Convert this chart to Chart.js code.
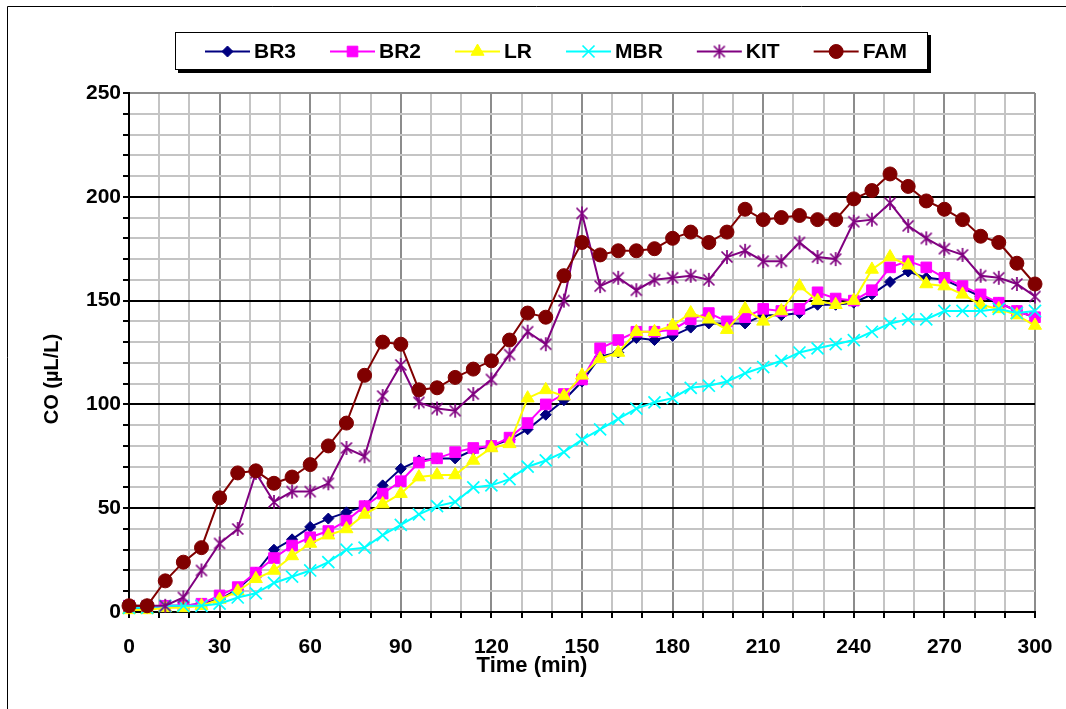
<!DOCTYPE html>
<html><head><meta charset="utf-8">
<script src="https://cdn.jsdelivr.net/npm/chart.js@4.4.1/dist/chart.umd.min.js"></script>
<style>html,body{margin:0;padding:0;background:#fff;}#wrap{width:1066px;height:709px;position:relative;}</style>
</head><body><div id="wrap"><canvas id="c" width="1066" height="709"></canvas></div>
<script>
// ---- data ----
const times = [0,6,12,18,24,30,36,42,48,54,60,66,72,78,84,90,96,102,108,114,120,126,132,138,144,150,156,162,168,174,180,186,192,198,204,210,216,222,228,234,240,246,252,258,264,270,276,282,288,294,300];
const seriesNames = ['BR3','BR2','LR','MBR','KIT','FAM'];
const BR3 = [2,2,3,3,4,6,11,19,30,35,41,45,48,51,61,69,73,74,74,78,80,83,88,95,102,111,123,125,132,131,133,137,139,139,139,143,143,144,148,148,149,153,159,164,161,160,156,152,149,145,142];
const BR2 = [3,2,3,3,4,8,12,19,26,32,36,39,44,51,57,63,72,74,77,79,80,84,91,100,105,112,127,131,135,135,136,141,144,140,142,146,145,146,154,151,150,155,166,169,166,161,157,153,149,145,142];
const LR  = [1,1,2,2,3,6,10,16,20,27,33,37,40,47,52,57,65,66,66,73,79,81,103,107,104,114,122,125,135,135,138,144,141,136,146,140,145,157,150,148,150,165,171,167,158,157,153,148,146,143,138];
const MBR = [2,2,3,3,3,4,7,9,14,17,20,24,30,31,37,42,47,51,53,60,61,64,70,73,77,83,88,93,98,101,103,108,109,111,115,118,121,125,127,129,131,135,139,141,141,145,145,145,146,144,145];
const KIT = [3,3,3,7,20,33,40,67,53,58,58,62,79,75,104,119,101,98,97,105,112,124,135,129,150,192,157,161,155,160,161,162,160,171,174,169,169,178,171,170,188,189,197,186,180,175,172,162,161,158,152];
const FAM = [3,3,15,24,31,55,67,68,62,65,71,80,91,114,130,129,107,108,113,117,121,131,144,142,162,178,172,174,174,175,180,183,178,183,194,189,190,191,189,189,199,203,211,205,198,194,189,181,178,168,158];
const xTickLabels = [0,30,60,90,120,150,180,210,240,270,300];
const yTickLabels = [0,50,100,150,200,250];
const xTitle = 'Time (min)';
const yTitle = 'CO (\u00b5L/L)';

// ---- styles ----
const FONT = '"Liberation Sans", Arial, Helvetica, sans-serif';
const colors = ['#000080','#FF00FF','#FFFF00','#00FFFF','#800080','#800000'];

function asterisk(color, s){
  const c = document.createElement('canvas'); c.width = s; c.height = s;
  const g = c.getContext('2d'); g.strokeStyle = color; g.lineWidth = 1.7;
  const a = 2.5, b = s - 2.5, m = s / 2;
  g.beginPath();
  g.moveTo(a,a); g.lineTo(b,b);
  g.moveTo(b,a); g.lineTo(a,b);
  g.moveTo(m,1); g.lineTo(m,s-1);
  g.stroke();
  return c;
}
const markers = [
  {pointStyle:'rectRot', radius:5.5, borderWidth:1},
  {pointStyle:'rect', radius:7.5, borderWidth:1},
  {pointStyle:'triangle', radius:7.5, borderWidth:1},
  {pointStyle:'crossRot', radius:8.5, borderWidth:1.7},
  {pointStyle:asterisk(colors[4], 16), radius:8, borderWidth:1},
  {pointStyle:'circle', radius:7, borderWidth:1}
];
const seriesData = [BR3,BR2,LR,MBR,KIT,FAM];

const datasets = seriesData.map((arr,i)=>({
  label: seriesNames[i],
  data: times.map((t,j)=>({x:t,y:arr[j]})),
  borderColor: colors[i],
  backgroundColor: colors[i],
  pointBackgroundColor: colors[i],
  pointBorderColor: colors[i],
  pointStyle: markers[i].pointStyle,
  pointRadius: markers[i].radius,
  pointBorderWidth: markers[i].borderWidth,
  borderWidth: 2,
  tension: 0,
  clip: false,
  order: 5 - i
}));

const decor = {
  id:'decor',
  beforeDraw(chart){
    const ctx = chart.ctx;
    ctx.save(); ctx.fillStyle = '#fff'; ctx.fillRect(0,0,chart.width,chart.height); ctx.restore();
  },
  afterDraw(chart){
    const ctx = chart.ctx;
    ctx.save();
    // outer frame
    ctx.strokeStyle = '#000'; ctx.lineWidth = 1;
    ctx.beginPath(); ctx.moveTo(7.5,709); ctx.lineTo(7.5,6.5); ctx.lineTo(1066,6.5); ctx.stroke();
    // axis titles
    ctx.fillStyle = '#000';
    ctx.font = 'bold 22px ' + FONT; ctx.textAlign = 'center'; ctx.textBaseline = 'middle';
    ctx.fillText(xTitle, 532, 666);
    ctx.save(); ctx.translate(52, 379); ctx.rotate(-Math.PI/2);
    ctx.font = 'bold 20px ' + FONT; ctx.fillText(yTitle, 0, 0); ctx.restore();
    // legend box with shadow
    const bx = 175, by = 32, bw = 753, bh = 38;
    ctx.fillStyle = '#000'; ctx.fillRect(bx+3, by+3, bw, bh);
    ctx.fillStyle = '#fff'; ctx.fillRect(bx, by, bw, bh);
    ctx.strokeStyle = '#000'; ctx.lineWidth = 1; ctx.strokeRect(bx+0.5, by+0.5, bw-1, bh-1);
    // legend items
    ctx.font = 'bold 21px ' + FONT; ctx.textAlign = 'left'; ctx.textBaseline = 'middle';
    let x = 205; const y = 51.5;
    seriesNames.forEach((name,i)=>{
      ctx.strokeStyle = colors[i]; ctx.lineWidth = 2;
      ctx.beginPath(); ctx.moveTo(x, y); ctx.lineTo(x+45, y); ctx.stroke();
      ctx.fillStyle = colors[i]; ctx.strokeStyle = colors[i]; ctx.lineWidth = markers[i].borderWidth;
      Chart.helpers.drawPoint(ctx, {pointStyle:markers[i].pointStyle, radius:markers[i].radius, rotation:0, borderWidth:markers[i].borderWidth}, x+22.5, y);
      ctx.fillStyle = '#000';
      ctx.fillText(name, x+49, y+1);
      x += 49 + ctx.measureText(name).width + 34;
    });
    ctx.restore();
  }
};

new Chart(document.getElementById('c'), {
  type: 'line',
  data: {datasets},
  options: {
    responsive: false, animation: false, devicePixelRatio: 1,
    layout: {autoPadding: false, padding: {top: 93, right: 31, left: 0, bottom: 0}},
    plugins: {legend: {display: false}, tooltip: {enabled: false}, title: {display: false}},
    scales: {
      x: {
        type: 'linear', position: 'bottom', min: 0, max: 300,
        afterBuildTicks: s => { s.ticks = []; for (let v = 0; v <= 300; v += 10) s.ticks.push({value: v}); },
        afterFit: s => { s.height = 97; s.paddingLeft = 0; s.paddingRight = 0; },
        ticks: {autoSkip: false, maxRotation: 0, padding: 17, color: '#000',
          font: {family: FONT, size: 21, weight: 'bold'},
          callback: v => xTickLabels.includes(v) ? String(v) : ''},
        grid: {color: c => (c.tick && c.tick.value % 30 === 0) ? '#8c8c8c' : '#c4c4c4', lineWidth: 2, tickLength: 6, tickColor: '#000', tickWidth: 2},
        border: {color: '#000', width: 2}
      },
      y: {
        type: 'linear', position: 'left', min: 0, max: 250,
        afterBuildTicks: s => { s.ticks = []; for (let v = 0; v <= 250; v += 10) s.ticks.push({value: v}); },
        afterFit: s => { s.width = 129; s.paddingTop = 0; s.paddingBottom = 0; },
        ticks: {autoSkip: false, padding: 2, color: '#000',
          font: {family: FONT, size: 21, weight: 'bold'},
          callback: v => yTickLabels.includes(v) ? String(v) : ''},
        grid: {color: c => { const v = c.tick ? c.tick.value : 0; return v === 250 ? '#8c8c8c' : (v % 50 === 0 ? '#000' : '#c4c4c4'); }, lineWidth: 2, tickLength: 6, tickColor: '#000', tickWidth: 2},
        border: {color: '#000', width: 2}
      }
    }
  },
  plugins: [decor]
});
</script>
</body></html>
